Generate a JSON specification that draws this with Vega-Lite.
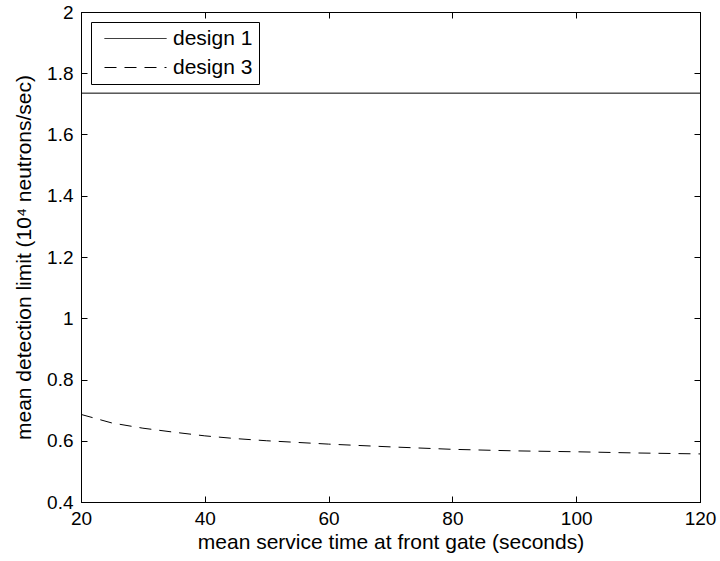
{
  "$schema": "https://vega.github.io/schema/vega-lite/v6.json",
  "autosize": "none",
  "width": 619,
  "height": 490,
  "padding": {"left": 81, "top": 12, "right": 20, "bottom": 59},
  "background": "white",
  "config": {
    "view": {"stroke": "black", "strokeWidth": 1},
    "font": "Liberation Sans",
    "axis": {
      "grid": false,
      "domainColor": "black",
      "tickColor": "black",
      "labelColor": "black",
      "titleColor": "black",
      "labelFont": "Liberation Sans",
      "titleFont": "Liberation Sans",
      "labelFontSize": 19,
      "titleFontSize": 21,
      "titleFontWeight": "normal",
      "tickSize": -6,
      "labelPadding": 13
    }
  },
  "data": {
    "values": [
      {"x": 20, "y": 1.735, "series": "design 1"},
      {"x": 120, "y": 1.735, "series": "design 1"},
      {"x": 20, "y": 0.686, "series": "design 3"},
      {"x": 25, "y": 0.658, "series": "design 3"},
      {"x": 30, "y": 0.641, "series": "design 3"},
      {"x": 35, "y": 0.628, "series": "design 3"},
      {"x": 40, "y": 0.616, "series": "design 3"},
      {"x": 45, "y": 0.607, "series": "design 3"},
      {"x": 50, "y": 0.6, "series": "design 3"},
      {"x": 60, "y": 0.589, "series": "design 3"},
      {"x": 70, "y": 0.58, "series": "design 3"},
      {"x": 80, "y": 0.572, "series": "design 3"},
      {"x": 90, "y": 0.567, "series": "design 3"},
      {"x": 100, "y": 0.564, "series": "design 3"},
      {"x": 110, "y": 0.56, "series": "design 3"},
      {"x": 120, "y": 0.557, "series": "design 3"}
    ]
  },
  "layer": [
    {
      "mark": {"type": "line", "stroke": "black", "strokeWidth": 1},
      "encoding": {
        "x": {
          "field": "x", "type": "quantitative",
          "scale": {"domain": [20, 120], "nice": false, "zero": false},
          "axis": {"orient": "bottom", "values": [20, 40, 60, 80, 100, 120], "title": "mean service time at front gate (seconds)", "titlePadding": 3, "labelFlush": false}
        },
        "y": {
          "field": "y", "type": "quantitative",
          "scale": {"domain": [0.4, 2], "nice": false, "zero": false},
          "axis": {"orient": "left", "values": [0.4, 0.6, 0.8, 1, 1.2, 1.4, 1.6, 1.8, 2], "format": "~g", "labelPadding": 14, "title": "mean detection limit (10⁴ neutrons/sec)", "titlePadding": 12, "labelFlush": false}
        },
        "strokeDash": {
          "field": "series", "type": "nominal",
          "scale": {"domain": ["design 1", "design 3"], "range": [[1, 0], [12, 8]]},
          "legend": {
            "title": null,
            "orient": "top-left",
            "offset": 10,
            "strokeColor": "black",
            "fillColor": "white",
            "padding": 6,
            "symbolType": "M-3.1,0H3.1",
            "symbolSize": 400,
            "symbolOffset": 28,
            "symbolStrokeColor": "black",
            "symbolStrokeWidth": 1,
            "labelFontSize": 21,
            "labelFont": "Liberation Sans",
            "labelColor": "black",
            "labelOffset": 27,
            "rowPadding": 7
          }
        }
      }
    },
    {
      "mark": {"type": "line", "strokeOpacity": 0},
      "encoding": {
        "x": {"field": "x", "type": "quantitative", "axis": {"orient": "top", "values": [20, 40, 60, 80, 100, 120], "labels": false, "title": null}},
        "y": {"field": "y", "type": "quantitative", "axis": {"orient": "right", "values": [0.4, 0.6, 0.8, 1, 1.2, 1.4, 1.6, 1.8, 2], "labels": false, "title": null}}
      }
    }
  ],
  "resolve": {"axis": {"x": "independent", "y": "independent"}}
}
